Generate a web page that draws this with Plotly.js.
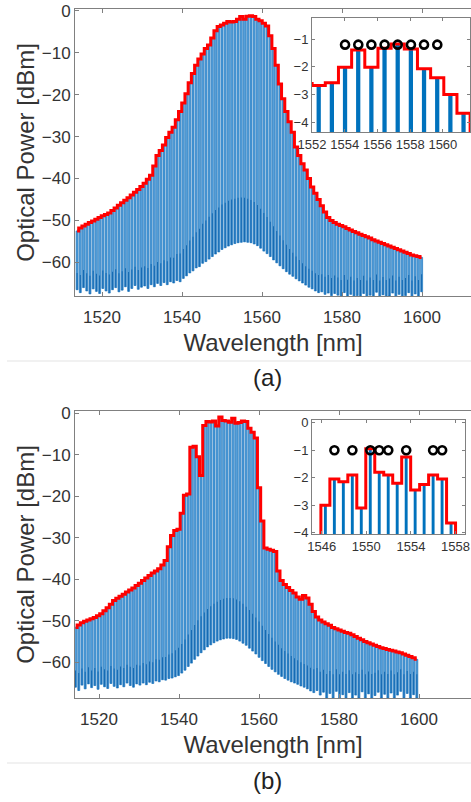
<!DOCTYPE html>
<html><head><meta charset="utf-8">
<script src="https://cdn.plot.ly/plotly-3.0.1.min.js"></script>
<style>html,body{margin:0;padding:0;background:#fff}#chart{width:471px;height:802px}</style>
</head><body><div id="chart"></div>
<script>
// ---------- DATA ----------
const combStep = 0.805;          // comb line spacing [nm]
const firstLineA = 1513.77;      // first comb wavelength, panel (a)
const firstLineB = 1514.13;      // first comb wavelength, panel (b)

// peak power of every comb line (red peak-hold envelope), panel (a) [dBm]
const peaksA = [
 -52.5,-51.8,-51.3,-50.9,-50.5,-50.1,-49.7,-49.3,-48.9,-48.6,
 -48.2,-47.6,-47.0,-46.4,-45.8,-45.2,-44.6,-43.9,-43.3,-42.6,
 -41.9,-41.1,-40.2,-39.2,-37.0,-34.5,-33.3,-32.0,-30.2,-29.0,
 -27.8,-26.0,-24.0,-22.0,-19.8,-17.2,-15.0,-13.0,-11.5,-10.3,
 -9.0,-8.2,-6.5,-4.8,-3.8,-3.4,-3.0,-2.6,-2.67,-2.57,
 -2.02,-1.39,-2.02,-1.33,-1.18,-1.36,-2.07,-2.39,-3.0,-3.67,
 -6.0,-9.0,-13.0,-17.5,-21.0,-24.0,-26.5,-29.0,-32.5,-34.5,
 -36.5,-38.0,-40.0,-42.0,-43.5,-45.0,-46.5,-48.0,-49.3,-50.0,
 -50.5,-50.9,-51.2,-51.5,-51.9,-52.3,-52.6,-52.9,-53.3,-53.6,
 -53.9,-54.2,-54.6,-54.9,-55.2,-55.5,-55.8,-56.1,-56.4,-56.7,
 -57.0,-57.3,-57.6,-57.9,-58.2,-58.4,-58.6,-58.8];
// lowest trace level under every comb line, panel (a)
const floorA = [
 -66.5,-67.2,-66.0,-66.8,-67.5,-66.3,-66.9,-67.4,-66.2,-66.8,-67.3,-66.5,-66.0,-67.0,-66.6,-65.8,-66.9,-66.2,-65.5,-66.4,-65.9,
 -65.6,-66.2,-65.3,-65.8,-65.0,-65.5,-64.8,-65.3,-64.6,-64.9,
 -64.3,-64.6,-63.8,-63.2,-62.5,-62.0,-61.3,-61.0,-60.2,-59.8,
 -59.2,-58.6,-58.0,-57.5,-56.9,-56.5,-56.1,-55.8,-55.5,-55.3,
 -55.2,-55.1,-55.2,-55.3,-55.6,-56.0,-56.6,-57.3,-57.9,-58.6,
 -59.4,-60.1,-60.8,-61.5,-62.2,-62.8,-63.3,-63.9,-64.4,-64.9,
 -65.4,-65.9,-66.3,-66.8,-67.2,-67.0,-67.6,-67.3,-67.9,-67.4,
 -67.8,-68.5,-67.2,-68.5,-67.6,-68.5,-67.9,-68.5,-67.4,-68.5,-67.8,-68.5,-67.1,-68.5,-67.7,-68.5,-68.0,-67.3,-68.5,-67.6,-68.5,-67.9,-67.2,-68.5,-67.5,-68.5,-67.0];
// inter-line noise level (dense darker band), panel (a)
const noiseA = [
 -62.5,-63.0,-61.8,-62.6,-63.2,-62.0,-62.7,-63.1,-61.9,-62.5,-62.9,-62.2,-61.6,-62.6,-62.1,-61.4,-62.3,-61.7,-61.0,-61.8,-61.2,
 -60.9,-61.3,-60.4,-60.8,-59.9,-60.2,-59.5,-59.7,-58.8,-58.9,
 -58.0,-57.9,-56.8,-55.9,-54.8,-53.9,-52.8,-52.0,-50.8,-50.0,
 -49.1,-48.3,-47.5,-46.9,-46.2,-45.8,-45.3,-45.0,-44.8,-44.6,
 -44.5,-44.6,-44.8,-45.1,-45.6,-46.3,-47.2,-48.2,-49.2,-50.3,
 -51.4,-52.5,-53.6,-54.7,-55.8,-56.8,-57.7,-58.6,-59.4,-60.2,
 -60.9,-61.5,-62.0,-62.6,-63.0,-62.8,-63.4,-63.0,-63.7,-63.1,
 -63.6,-64.2,-63.0,-64.1,-63.4,-64.3,-63.7,-64.2,-63.2,-64.3,-63.6,-64.2,-62.9,-64.3,-63.5,-64.2,-63.8,-63.1,-64.3,-63.4,-64.2,-63.7,-63.0,-64.3,-63.3,-64.2,-62.8];

// panel (b)
const peaksB = [
 -51.6,-51.0,-50.5,-50.1,-49.8,-49.5,-49.2,-48.8,-48.3,-47.6,
 -46.9,-46.0,-45.1,-44.6,-44.1,-43.6,-43.1,-42.6,-42.1,-41.5,
 -41.0,-40.3,-39.7,-39.1,-38.5,-38.0,-37.5,-36.6,-35.5,-32.2,
 -29.5,-28.3,-28.0,-24.1,-19.8,-19.5,-8.2,-8.0,-10.5,-15.0,
 -3.0,-2.05,-2.15,-1.9,-3.1,-0.95,-1.8,-1.9,-2.2,-1.25,
 -2.45,-2.25,-1.9,-2.05,-3.65,-4.6,-6.0,-18.0,-26.0,-32.5,
 -32.8,-33.0,-33.3,-38.0,-40.3,-41.3,-42.0,-42.7,-43.3,-44.3,
 -44.8,-43.9,-44.5,-46.0,-47.8,-49.1,-49.8,-50.3,-50.7,-51.1,
 -51.6,-51.9,-52.2,-52.5,-52.8,-53.0,-53.4,-53.8,-54.2,-54.6,
 -55.0,-55.3,-55.6,-55.9,-56.2,-56.5,-56.7,-56.9,-57.1,-57.3,
 -57.5,-57.7,-58.0,-58.3,-58.6,-58.9,-59.3];
const floorB = [
 -66.0,-66.8,-65.5,-66.4,-65.2,-66.1,-65.6,-66.5,-65.3,-65.9,-66.3,-65.1,-65.8,-66.2,-65.4,-65.9,-65.0,-65.6,-66.0,-65.2,-65.5,
 -65.0,-65.4,-64.8,-65.1,-64.5,-64.7,-64.2,-64.3,-63.9,-63.8,
 -63.5,-63.2,-62.6,-61.9,-61.0,-60.2,-59.3,-58.5,-57.7,-57.0,
 -56.3,-55.8,-55.3,-54.9,-54.6,-54.4,-54.2,-54.2,-54.3,-54.5,
 -54.9,-55.4,-55.9,-56.6,-57.3,-58.0,-58.8,-59.6,-60.3,-61.0,
 -61.7,-62.3,-62.9,-63.4,-63.9,-64.3,-64.7,-65.0,-65.3,-65.7,
 -66.0,-66.4,-66.9,-67.3,-66.8,-67.9,-67.2,-68.6,-67.5,-68.6,
 -67.0,-68.6,-67.8,-68.6,-67.3,-68.6,-67.9,-68.6,-67.1,-68.6,-67.6,-68.6,-68.0,-67.2,-68.6,-67.7,-68.6,-67.4,-68.6,-67.9,-67.0,-68.6,-67.5,-68.6,-67.8,-68.6];
const noiseB = [
 -62.0,-62.6,-61.5,-62.3,-61.2,-62.0,-61.4,-62.2,-61.1,-61.7,-62.0,-60.9,-61.5,-61.8,-61.0,-61.4,-60.6,-61.1,-61.4,-60.6,-60.8,
 -60.2,-60.5,-59.8,-60.0,-59.3,-59.4,-58.8,-58.7,-58.1,-57.8,
 -57.1,-56.5,-55.6,-54.5,-53.3,-52.2,-51.0,-49.9,-48.9,-48.0,
 -47.2,-46.5,-45.9,-45.4,-45.0,-44.7,-44.5,-44.5,-44.6,-44.9,
 -45.3,-45.9,-46.6,-47.4,-48.3,-49.2,-50.2,-51.2,-52.2,-53.2,
 -54.1,-55.0,-55.8,-56.6,-57.3,-57.9,-58.5,-59.0,-59.5,-60.0,
 -60.4,-60.8,-61.3,-61.7,-61.4,-62.3,-61.8,-62.8,-62.1,-62.9,
 -61.7,-62.9,-62.3,-62.8,-61.9,-62.9,-62.4,-62.8,-61.8,-62.9,-62.2,-62.8,-62.5,-61.9,-62.9,-62.3,-62.8,-62.0,-62.9,-62.4,-61.7,-62.9,-62.1,-62.8,-62.3,-62.9];

// selected lines marked with circles in the insets
const markA_wl  = [1554.02,1554.83,1555.63,1556.44,1557.24,1558.05,1558.85,1559.66];
const markA_lvl = [-1.2,-1.2,-1.2,-1.2,-1.2,-1.2,-1.2,-1.2];
const markB_wl  = [1547.14,1548.75,1550.36,1551.16,1551.97,1553.58,1555.99,1556.80];
const markB_lvl = [-1,-1,-1,-1,-1,-1,-1,-1];

// tick labels
const xTicksMain = [1520,1540,1560,1580,1600];
const yTicksMain = [-60,-50,-40,-30,-20,-10,0];
const xTicksInsetA = [1552,1554,1556,1558,1560];
const yTicksInsetA = [-4,-3,-2,-1];
const xTicksInsetB = [1546,1550,1554,1558];
const yTicksInsetB = [-4,-3,-2,-1,0];

// ---------- TRACES ----------
const FONT = 'Liberation Sans, Arial, sans-serif';
const heights = (p, f) => p.map((v, i) => v - f[i]);

function mainTraces(peaks, floor, noise, x0, xa, ya) {
  return [
    {type:'bar', x0:x0, dx:combStep, y:heights(peaks, floor), base:floor, width:0.5,
     marker:{color:'#55a0db', line:{color:'#0a68b6', width:0.6}}, xaxis:xa, yaxis:ya, hoverinfo:'skip'},
    {type:'bar', x0:x0, dx:combStep, y:heights(noise, floor), base:floor, width:0.22,
     marker:{color:'#0d63ae', line:{width:0}}, xaxis:xa, yaxis:ya, hoverinfo:'skip'},
    {type:'scatter', mode:'lines', x0:x0, dx:combStep, y:peaks,
     line:{color:'#ff0000', width:3, shape:'hvh'}, xaxis:xa, yaxis:ya, hoverinfo:'skip'}
  ];
}
function insetTraces(peaks, floor, x0, mx, my, xa, ya) {
  return [
    {type:'bar', x0:x0, dx:combStep, y:heights(peaks, floor), base:floor, width:0.26,
     marker:{color:'#0072bd', line:{width:0}}, xaxis:xa, yaxis:ya, hoverinfo:'skip'},
    {type:'scatter', mode:'lines', x0:x0, dx:combStep, y:peaks,
     line:{color:'#ff0000', width:3, shape:'hvh'}, xaxis:xa, yaxis:ya, hoverinfo:'skip'},
    {type:'scatter', mode:'markers', x:mx, y:my,
     marker:{symbol:'circle-open', size:8, color:'#000', line:{width:2.6}}, xaxis:xa, yaxis:ya, hoverinfo:'skip'}
  ];
}

const data = [].concat(
  mainTraces(peaksA, floorA, noiseA, firstLineA, 'x', 'y'),
  insetTraces(peaksA, floorA, firstLineA, markA_wl, markA_lvl, 'x2', 'y2'),
  mainTraces(peaksB, floorB, noiseB, firstLineB, 'x3', 'y3'),
  insetTraces(peaksB, floorB, firstLineB, markB_wl, markB_lvl, 'x4', 'y4')
);

// ---------- LAYOUT ----------
const ax = {showgrid:false, zeroline:false, showline:true, linecolor:'#808080', linewidth:1,
  ticks:'inside', ticklen:4, tickcolor:'#808080', ticklabeloverflow:'allow',
  tickfont:{family:FONT, size:17, color:'#333'}};
const inAx = Object.assign({}, ax, {mirror:'ticks', ticklen:3, tickfont:{family:FONT, size:13, color:'#333'}});
const W = 471, H = 802;
const dx = (a, b) => [a / W, b / W];
const dy = (top, bot) => [1 - bot / H, 1 - top / H];
const titleFont = {family:FONT, size:24, color:'#333'};

const layout = {
  width:W, height:H, margin:{l:0, r:0, t:0, b:0},
  paper_bgcolor:'#fff', plot_bgcolor:'#fff', showlegend:false, barmode:'overlay',
  font:{family:FONT, color:'#333'},
  xaxis: Object.assign({}, ax, {domain:dx(75, W), range:[1513.25, 1612.25], tickvals:xTicksMain, mirror:'ticks', anchor:'y',
    ticklabelstandoff:6, title:{text:'Wavelength [nm]', font:titleFont, standoff:7}}),
  yaxis: Object.assign({}, ax, {domain:dy(9, 296), range:[-68, 0.4], tickvals:yTicksMain, anchor:'x',
    title:{text:'Optical Power [dBm]', font:titleFont, standoff:0}}),
  xaxis2: Object.assign({}, inAx, {domain:dx(312, 470), range:[1552, 1561.66], tickvals:xTicksInsetA, anchor:'y2'}),
  yaxis2: Object.assign({}, inAx, {domain:dy(18, 132), range:[-4.35, -0.24], tickvals:yTicksInsetA, anchor:'x2'}),
  xaxis3: Object.assign({}, ax, {domain:dx(75, W), range:[1514, 1613], tickvals:xTicksMain, mirror:'ticks', anchor:'y3',
    ticklabelstandoff:6, title:{text:'Wavelength [nm]', font:titleFont, standoff:7}}),
  yaxis3: Object.assign({}, ax, {domain:dy(411, 698), range:[-68.6, 0.5], tickvals:yTicksMain, anchor:'x3',
    title:{text:'Optical Power [dBm]', font:titleFont, standoff:0}}),
  xaxis4: Object.assign({}, inAx, {domain:dx(312, 465), range:[1545.13, 1558.85], tickvals:xTicksInsetB, anchor:'y4'}),
  yaxis4: Object.assign({}, inAx, {domain:dy(420, 534), range:[-4.05, 0.1], tickvals:yTicksInsetB, anchor:'x4'}),
  annotations:[
    {text:'(a)', xref:'paper', yref:'paper', x:267/W, y:1-377/H, showarrow:false, xanchor:'center', yanchor:'middle',
     font:{family:FONT, size:24, color:'#222'}},
    {text:'(b)', xref:'paper', yref:'paper', x:267/W, y:1-780/H, showarrow:false, xanchor:'center', yanchor:'middle',
     font:{family:FONT, size:24, color:'#222'}}
  ],
  shapes:[
    {type:'line', xref:'paper', yref:'paper', x0:7/W, x1:1, y0:1-361/H, y1:1-361/H, line:{color:'#e3e3e3', width:1}},
    {type:'line', xref:'paper', yref:'paper', x0:7/W, x1:1, y0:1-763/H, y1:1-763/H, line:{color:'#e3e3e3', width:1}}
  ]
};

Plotly.newPlot('chart', data, layout, {displayModeBar:false, staticPlot:true});
</script></body></html>
